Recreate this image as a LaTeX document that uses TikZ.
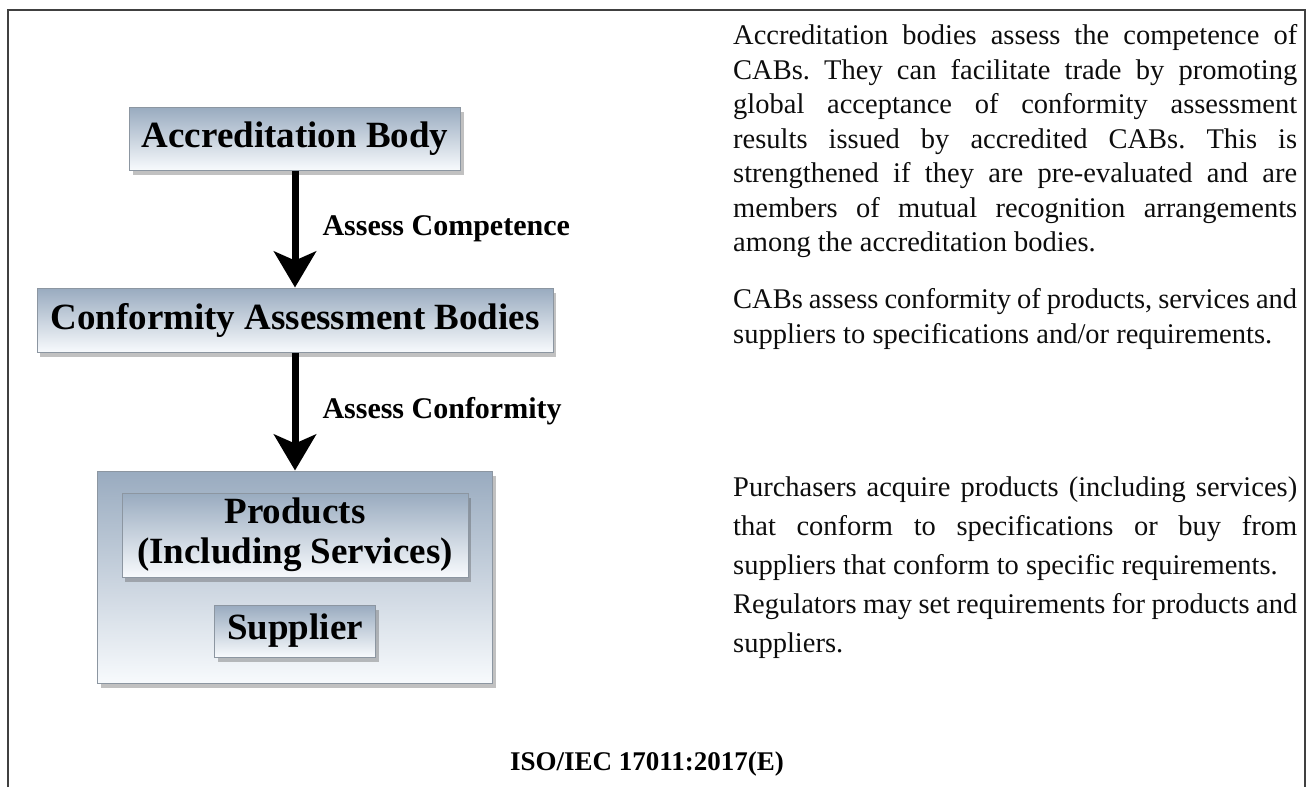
\documentclass[tikz,border=0pt]{standalone}
\usepackage{fontspec}
\setmainfont{Liberation Serif}
\usetikzlibrary{arrows.meta,shadows}

\begin{document}
\frenchspacing
\begin{tikzpicture}[x=1pt,y=-1pt]
%
\definecolor{col_top}{rgb}{0.60,0.67,0.75}
\definecolor{col_bot}{rgb}{0.97,0.98,0.99}
\definecolor{col_line}{rgb}{0.55,0.59,0.63}
\definecolor{col_frame}{rgb}{0.25,0.25,0.25}
\definecolor{col_arrow}{rgb}{0.0,0.0,0.0}
\definecolor{col_text}{rgb}{0.05,0.05,0.05}
%
%
\tikzset{
  box/.style={draw=col_line, line width=1pt, top color=col_top, bottom color=col_bot,
    inner sep=0pt, align=center, font=\fontsize{37}{40}\selectfont\bfseries,
    drop shadow={shadow xshift=3pt, shadow yshift=-5pt, opacity=0.35, fill=black!70}},
  flow/.style={draw=col_arrow, line width=7pt, -{Stealth[length=36pt, width=42pt, inset=9pt]}},
  flowlab/.style={font=\fontsize{30}{32}\selectfont\bfseries, inner sep=0pt, anchor=west, xshift=24pt},
  para/.style={anchor=north west, inner sep=0pt, text width=564pt, align=justify, text=col_text,
    font=\fontsize{28.5}{34.5}\selectfont, execute at begin node={\tolerance=9999\hyphenpenalty=10000}},
}
%
\useasboundingbox (0,0) rectangle (1311,787);
%
%
\coordinate (c0) at (8,787);
\coordinate (c1) at (8,10);
\coordinate (c2) at (1305,10);
\coordinate (c3) at (1305,787);
\draw[col_frame, line width=2pt] (c0) -- (c1) -- (c2) -- (c3);
%
%
\node[box, minimum width=331pt, minimum height=63pt] (b0) at (295,138.5) {Accreditation Body};
\node[box, minimum width=516pt, minimum height=64pt] (b1) at (295,320) {Conformity Assessment Bodies};
\node[box, minimum width=395pt, minimum height=212pt] (b2) at (295,577) {};
\node[box, minimum width=346pt, minimum height=84pt] (b3) at (295,535) {Products\\(Including Services)};
\node[box, minimum width=161pt, minimum height=52pt] (b4) at (295,631) {Supplier};
%
%
\draw[flow] (b0.south) -- (b1.north) node[flowlab, midway] (l0) {Assess Competence};
\draw[flow] (b1.south) -- (b2.north) node[flowlab, midway] (l1) {Assess Conformity};
%
%
\node[para] (t0) at (733,24.5) {Accreditation bodies assess the competence of\linebreak
CABs. They can facilitate trade by promoting\linebreak
global acceptance of conformity assessment\linebreak
results issued by accredited CABs. This is\linebreak
strengthened if they are pre-evaluated and are\linebreak
members of mutual recognition arrangements\linebreak
among the accreditation bodies.};
\node[para] (t1) at (733,288.5) {CABs assess conformity of products, services and\linebreak
suppliers to specifications and/or requirements.};
\node[para, font=\fontsize{28.5}{39}\selectfont] (t2) at (733,476.5) {Purchasers acquire products (including services)\linebreak
that conform to specifications or buy from\linebreak
suppliers that conform to specific requirements.};
\node[para, font=\fontsize{28.5}{39}\selectfont] (t3) at (733,593.5) {Regulators may set requirements for products and\linebreak
suppliers.};
%
%
\node[font=\fontsize{27}{30}\selectfont\bfseries, anchor=base] (f0) at (647,770) {ISO/IEC 17011:2017(E)};
%
\end{tikzpicture}
\end{document}
